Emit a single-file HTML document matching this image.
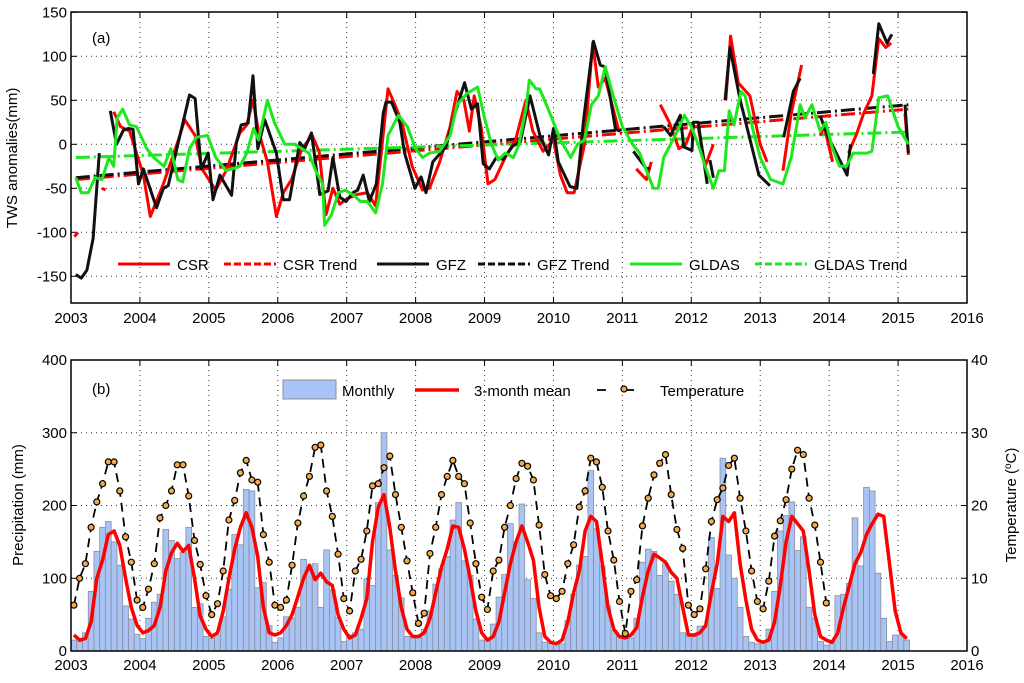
<!DOCTYPE html>
<html><head><meta charset="utf-8"><style>
body{margin:0;background:#fff;}
svg text{font-family:"Liberation Sans",sans-serif;}
</style></head><body>
<svg id="chart" width="1024" height="678" xmlns="http://www.w3.org/2000/svg"></svg>
<script>
// ---------- Panel (a) data ----------
const yearTicks = [2003,2004,2005,2006,2007,2008,2009,2010,2011,2012,2013,2014,2015,2016];
const twsTicks = [-150,-100,-50,0,50,100,150];
// GFZ segments (decimal year / value), null = gap
const gfzT = [2003.07,2003.15,2003.23,2003.32,2003.41,null,2003.57,2003.66,2003.76,2003.83,2003.90,2003.98,2004.05,2004.24,2004.34,2004.41,2004.58,2004.72,2004.80,2004.89,2004.99,2005.06,2005.16,2005.33,2005.40,2005.47,2005.57,2005.64,2005.71,2005.81,2005.98,2006.08,2006.17,2006.32,2006.39,2006.49,2006.61,2006.73,2006.80,2006.90,2006.99,2007.09,2007.16,2007.24,2007.33,2007.43,2007.53,2007.57,2007.65,2007.77,2007.84,2007.99,2008.08,2008.15,2008.25,2008.44,2008.57,2008.71,2008.81,2008.90,2008.98,2009.07,2009.17,2009.27,2009.41,2009.52,2009.66,2009.81,2009.93,2010.0,2010.07,2010.24,2010.34,2010.44,2010.58,2010.68,2010.75,2010.90,2010.97,null,2011.16,2011.35,2011.40,null,2011.60,2011.70,2011.84,2011.89,2012.01,2012.03,2012.10,2012.23,null,2012.27,2012.32,null,2012.49,2012.56,2012.71,2012.98,2013.14,null,2013.34,2013.48,2013.58,null,2013.87,2013.99,2014.26,2014.31,null,2014.64,2014.72,2014.84,2014.91,null,2015.10,2015.15];
const gfzV = [-148,-152,-143,-107,-10,null,38,0,16,18,17,-45,-28,-72,-50,-47,10,56,52,-28,-10,-63,-35,-58,2,22,24,78,-5,28,-10,-63,-63,2,-5,13,-57,-53,-15,-60,-65,-55,-52,-35,-65,-45,35,48,48,25,-10,-50,-37,-55,-20,-3,35,70,40,46,-22,-28,-15,-17,-2,3,55,8,-12,18,-20,-48,-50,30,117,90,88,17,15,null,-8,-28,-27,null,20,10,33,-3,-7,25,25,-45,null,-18,-38,null,50,110,50,-35,-47,null,8,60,75,null,32,8,-35,0,null,80,137,115,125,null,45,-10];
const csrT = [2003.05,2003.10,null,2003.45,2003.5,null,2003.62,2003.72,2003.85,2004.05,2004.15,2004.34,2004.58,2004.65,2004.8,2004.9,2005.1,2005.25,2005.45,2005.55,2005.64,2005.72,2005.85,2005.98,2006.08,2006.2,2006.35,2006.5,2006.6,2006.7,2006.8,2006.9,2007.0,2007.15,2007.3,2007.42,2007.5,2007.6,2007.7,2007.8,2007.95,2008.1,2008.2,2008.35,2008.5,2008.6,2008.7,2008.78,2008.85,2008.95,2009.05,2009.15,2009.3,2009.45,2009.6,2009.7,2009.85,2010.0,2010.1,2010.2,2010.3,2010.45,2010.57,2010.65,2010.75,2010.95,null,2011.2,2011.35,2011.42,null,2011.55,2011.68,2011.82,2011.92,2012.02,2012.1,2012.2,2012.32,null,2012.5,2012.57,2012.68,2012.85,2013.0,2013.1,null,2013.33,2013.45,2013.6,null,2013.87,2013.93,2014.05,null,2014.28,2014.4,2014.5,2014.62,2014.72,2014.82,2014.9,null,2015.1,2015.15];
const csrV = [-105,-100,null,-50,-52,null,37,20,15,-35,-82,-45,10,28,10,-28,-52,-30,13,22,50,15,-20,-82,-55,-40,-5,10,-8,-80,-50,-68,-62,-57,-55,-70,-10,63,45,25,-25,-52,-50,-20,20,60,50,15,55,20,-45,-40,-15,5,50,15,-8,5,-35,-55,-55,0,115,65,75,15,null,-28,-40,-20,null,45,25,-5,0,20,20,-25,0,null,50,123,70,55,0,-20,null,-30,35,90,null,10,20,-20,null,-10,12,35,55,120,110,115,null,35,-12];
const gldT = [2003.07,2003.15,2003.25,2003.35,2003.45,2003.55,2003.62,2003.67,2003.75,2003.85,2003.95,2004.1,2004.2,2004.35,2004.45,2004.55,2004.62,2004.72,2004.82,2004.98,2005.1,2005.25,2005.45,2005.55,2005.65,2005.72,2005.85,2005.95,2006.1,2006.25,2006.35,2006.45,2006.55,2006.65,2006.68,2006.78,2006.88,2006.98,2007.1,2007.2,2007.3,2007.42,2007.52,2007.6,2007.75,2007.88,2008.0,2008.1,2008.2,2008.35,2008.5,2008.6,2008.75,2008.9,2009.0,2009.1,2009.2,2009.3,2009.42,2009.5,2009.6,2009.65,2009.75,2009.8,2009.95,2010.1,2010.25,2010.35,2010.45,2010.55,2010.65,2010.75,2010.85,2011.0,2011.15,2011.25,2011.35,2011.45,2011.52,2011.6,2011.7,2011.8,2011.9,2012.0,2012.1,2012.2,2012.32,2012.4,2012.48,2012.55,2012.62,2012.72,2012.78,2012.9,2013.0,2013.15,2013.33,2013.45,2013.58,2013.65,2013.75,2013.87,2013.95,2014.05,2014.15,2014.25,2014.35,2014.45,2014.55,2014.62,2014.72,2014.85,2015.0,2015.15];
const gldV = [-38,-55,-55,-38,-40,-15,-25,30,40,22,20,-5,-15,-25,-5,-40,-43,-5,8,10,-15,-30,-25,-10,18,5,50,25,0,0,-5,-10,-30,-45,-92,-80,-55,-52,-58,-65,-65,-78,-45,10,33,20,-5,-15,-10,-8,10,45,58,65,30,0,-18,-10,-15,0,40,73,63,63,35,5,-15,0,5,45,55,88,60,20,0,-10,-30,-50,-50,-15,0,15,33,20,0,-25,-50,-30,-30,38,22,60,55,15,-15,-40,-45,-15,45,30,45,15,25,-5,-25,-25,-10,-10,-10,-8,53,55,20,0];
const trendT = [2003.07,2015.15];
const csrTrend = [-40,40];
const gfzTrend = [-38,45];
const gldTrend = [-15,14];

// ---------- Panel (b) data ----------
const precipTicks = [0,100,200,300,400];
const tempTicks = [0,10,20,30,40];
const precip = [15,13,25,82,137,170,178,150,118,62,44,23,
 17,45,67,78,167,152,127,135,170,60,65,20,
 17,22,47,85,160,146,222,220,87,94,35,12,
 18,47,45,60,126,112,120,60,139,84,46,13,
 22,25,30,99,90,204,300,139,104,73,20,18,
 18,30,55,92,113,130,180,204,124,104,44,15,
 17,37,74,105,175,150,202,98,72,25,12,10,
 10,10,42,78,118,130,248,168,117,62,28,20,
 20,18,45,122,140,137,104,120,96,78,25,24,
 20,34,35,156,86,265,132,100,60,20,12,10,
 12,30,82,165,186,205,138,157,60,45,13,8,
 10,76,78,93,183,117,225,220,107,45,13,22,
 22,15];
const mean3 = [22,15,17,40,100,125,160,165,145,100,60,35,
 25,28,35,60,110,135,148,137,145,100,48,30,
 20,25,55,100,140,170,190,170,130,60,25,22,
 25,35,50,75,100,118,98,107,95,90,50,30,
 18,22,45,72,150,198,215,170,110,60,30,20,
 20,25,45,80,115,140,172,170,140,100,55,25,
 15,20,40,80,120,150,172,150,125,60,20,12,
 10,15,40,80,110,165,185,178,120,60,30,20,
 18,22,32,75,110,133,128,122,108,100,60,22,
 22,25,35,80,120,185,178,190,120,70,30,15,
 12,15,40,90,150,185,175,165,110,50,20,15,
 12,25,60,90,120,135,160,175,188,185,120,55,
 25,17];
const temp = [6.3,10,12,17,20.5,23,26,26,22,15.7,12.2,7,
 6,8.5,12,18.3,20,22,25.6,25.6,21.3,15.2,11.9,7.6,
 5,6.5,11,18,20.7,24.5,26.2,23.5,23.2,16,12.2,6.3,
 6,7,11.8,17.6,21.3,24,28,28.3,22,18.5,13.3,7.2,
 5.5,11,12.6,16.5,22.7,23,25.2,26.8,21.5,17,12.4,8,
 3.8,5.2,13.4,17,21.5,24,26.2,24,23,17.6,12,7.4,
 5.7,11,12.5,17,20,23.7,25.8,25.4,23.5,17.3,10.5,7.6,
 7.2,8.2,12,14.6,19.8,22,26.5,26,22.5,16.5,12.5,6.8,
 2.4,8.2,9.8,17.2,21,24.2,25.8,27,21.5,16.7,14.1,6.3,
 5,5.8,11.3,17.8,20.8,22.4,25.5,26.5,21,16.5,11,6.8,
 5.8,9.6,15.8,17.9,20.8,25,27.6,27,21,17.3,12.2,6.6];

// ---------- Drawing ----------
const NS = "http://www.w3.org/2000/svg";
const svg = document.getElementById('chart');
function mk(tag, attrs, parent){ const e=document.createElementNS(NS,tag); for(const k in attrs) e.setAttribute(k,attrs[k]); (parent||svg).appendChild(e); return e; }
const X0=71, X1=967;
const xs = y => X0 + (y-2003)/(2016-2003)*(X1-X0);
const aTop=12, aBot=303;
const ya = v => 144.3 - v*(132/150);
const bTop=360, bBot=651;
const yb = v => bBot - v/400*(bBot-bTop);
const yt = v => bBot - v/40*(bBot-bTop);
const mx = i => xs(2003 + (i+0.5)/12);

function pathFrom(T,V,fx,fy){ let d='', pen=false; for(let i=0;i<T.length;i++){ if(T[i]===null||V[i]===null){pen=false;continue;} d+=(pen?'L':'M')+fx(T[i]).toFixed(1)+','+fy(V[i]).toFixed(1)+' '; pen=true;} return d; }

// ===== Panel A =====
const gA = mk('g',{});


yearTicks.forEach(y=>{
  if(y>2003 && y<2016){ const l=mk('line',{x1:xs(y),x2:xs(y),y1:aTop,y2:aBot,stroke:'#333','stroke-width':1,'stroke-dasharray':'1,4'},gA);   }
  const t=mk('text',{x:xs(y),y:aBot+20,'text-anchor':'middle','font-size':15},gA); t.textContent=y;
   
  mk('line',{x1:xs(y),x2:xs(y),y1:aBot,y2:aBot-6,stroke:'#000'},gA);
  mk('line',{x1:xs(y),x2:xs(y),y1:aTop,y2:aTop+6,stroke:'#000'},gA);
});
twsTicks.forEach(v=>{
  if(v<150){ const l=mk('line',{x1:X0,x2:X1,y1:ya(v),y2:ya(v),stroke:'#333','stroke-width':1,'stroke-dasharray':'1,4'},gA);   }
  const t=mk('text',{x:X0-4,y:ya(v)+5,'text-anchor':'end','font-size':15},gA); t.textContent=v;
   
  mk('line',{x1:X0,x2:X0+6,y1:ya(v),y2:ya(v),stroke:'#000'},gA);
  mk('line',{x1:X1,x2:X1-6,y1:ya(v),y2:ya(v),stroke:'#000'},gA);
});
// trends
let p;
p=mk('path',{d:pathFrom(trendT,csrTrend,xs,ya),stroke:'#f00','stroke-width':3,fill:'none','stroke-dasharray':'14,4,2,4'},gA);
 
p=mk('path',{d:pathFrom(trendT,gfzTrend,xs,ya),stroke:'#111','stroke-width':3,fill:'none','stroke-dasharray':'14,4,2,4'},gA);
 
p=mk('path',{d:pathFrom(trendT,gldTrend,xs,ya),stroke:'#1de81d','stroke-width':3,fill:'none','stroke-dasharray':'14,4,2,4'},gA);
 
p=mk('path',{d:pathFrom(csrT,csrV,xs,ya),stroke:'#f00','stroke-width':3,fill:'none','stroke-linejoin':'round'},gA);
 
p=mk('path',{d:pathFrom(gfzT,gfzV,xs,ya),stroke:'#111','stroke-width':3,fill:'none','stroke-linejoin':'round'},gA);
 
p=mk('path',{d:pathFrom(gldT,gldV,xs,ya),stroke:'#1de81d','stroke-width':3,fill:'none','stroke-linejoin':'round'},gA);
 
mk('rect',{x:X0,y:aTop,width:X1-X0,height:aBot-aTop,fill:'none',stroke:'#000','stroke-width':1.5},gA);
let t=mk('text',{x:92,y:43,'font-size':15},gA); t.textContent='(a)';
 
t=mk('text',{x:0,y:0,'font-size':15,'text-anchor':'middle',transform:'translate(17,158) rotate(-90)'},gA); t.textContent='TWS anomalies(mm)';
 
// legend A
const legA=[['CSR',118,'#f00',''],['CSR Trend',224,'#f00','7,3'],['GFZ',377,'#111',''],['GFZ Trend',478,'#111','7,3'],['GLDAS',630,'#1de81d',''],['GLDAS Trend',755,'#1de81d','7,3']];
legA.forEach(e=>{
  const g=mk('g',{},gA);
   
  const a={x1:e[1],x2:e[1]+52,y1:264,y2:264,stroke:e[2],'stroke-width':3}; if(e[3]) a['stroke-dasharray']=e[3];
  mk('line',a,g);
  const tt=mk('text',{x:e[1]+59,y:270,'font-size':15},g); tt.textContent=e[0];
});

// ===== Panel B =====
const gB = mk('g',{});


yearTicks.forEach(y=>{
  if(y>2003 && y<2016){ const l=mk('line',{x1:xs(y),x2:xs(y),y1:bTop,y2:bBot,stroke:'#333','stroke-width':1,'stroke-dasharray':'1,4'},gB);   }
  const tt=mk('text',{x:xs(y),y:bBot+19,'text-anchor':'middle','font-size':15},gB); tt.textContent=y;
   
  mk('line',{x1:xs(y),x2:xs(y),y1:bBot,y2:bBot-6,stroke:'#000'},gB);
  mk('line',{x1:xs(y),x2:xs(y),y1:bTop,y2:bTop+6,stroke:'#000'},gB);
});
precipTicks.forEach(v=>{
  if(v>0&&v<400){ const l=mk('line',{x1:X0,x2:X1,y1:yb(v),y2:yb(v),stroke:'#333','stroke-width':1,'stroke-dasharray':'1,4'},gB);   }
  const tt=mk('text',{x:X0-4,y:yb(v)+5,'text-anchor':'end','font-size':15},gB); tt.textContent=v;
   
  mk('line',{x1:X0,x2:X0+6,y1:yb(v),y2:yb(v),stroke:'#000'},gB);
});
tempTicks.forEach(v=>{
  const tt=mk('text',{x:X1+4,y:yt(v)+5,'font-size':15},gB); tt.textContent=v;
   
  mk('line',{x1:X1,x2:X1-6,y1:yt(v),y2:yt(v),stroke:'#000'},gB);
});
const bw = xs(2003+1/12)-xs(2003);
precip.forEach((v,i)=>{
  const r=mk('rect',{x:(mx(i)-bw/2).toFixed(2),y:yb(v).toFixed(2),width:bw.toFixed(2),height:(yb(0)-yb(v)).toFixed(2),fill:'#a8c4f4',stroke:'#8c8c9c','stroke-width':0.8},gB);
   
});
let d=''; mean3.forEach((v,i)=>{ d+=(i?'L':'M')+mx(i).toFixed(1)+','+yb(v).toFixed(1)+' '; });
p=mk('path',{d:d,stroke:'#f00','stroke-width':3.5,fill:'none','stroke-linejoin':'round'},gB);
 
d=''; temp.forEach((v,i)=>{ d+=(i?'L':'M')+mx(i).toFixed(1)+','+yt(v).toFixed(1)+' '; });
p=mk('path',{d:d,stroke:'#000','stroke-width':1.8,fill:'none','stroke-dasharray':'9,6'},gB);
 
temp.forEach((v,i)=>{
  const c=mk('circle',{cx:mx(i).toFixed(1),cy:yt(v).toFixed(1),r:3,fill:'#f5a94a',stroke:'#000','stroke-width':1.2},gB);
   
});
mk('rect',{x:X0,y:bTop,width:X1-X0,height:bBot-bTop,fill:'none',stroke:'#000','stroke-width':1.5},gB);
t=mk('text',{x:92,y:394,'font-size':15},gB); t.textContent='(b)';
 
t=mk('text',{x:0,y:0,'font-size':15,'text-anchor':'middle',transform:'translate(23,505) rotate(-90)'},gB); t.textContent='Precipitation (mm)';
 
t=mk('text',{x:0,y:0,'font-size':15,'text-anchor':'middle',transform:'translate(1016,505) rotate(-90)'},gB);
t.innerHTML='Temperature (<tspan dy="-5" font-size="10">o</tspan><tspan dy="5">C)</tspan>';
 
// legend B
let g=mk('g',{},gB);  
mk('rect',{x:283,y:380,width:53,height:19,fill:'#a8c4f4',stroke:'#8c8c9c'},g);
t=mk('text',{x:342,y:396,'font-size':15},g); t.textContent='Monthly';
g=mk('g',{},gB);  
mk('line',{x1:415,x2:459,y1:390,y2:390,stroke:'#f00','stroke-width':3.5},g);
t=mk('text',{x:474,y:396,'font-size':15},g); t.textContent='3-month mean';
g=mk('g',{},gB);  
mk('line',{x1:597,x2:651,y1:390,y2:390,stroke:'#000','stroke-width':1.8,'stroke-dasharray':'9,19'},g);
mk('circle',{cx:624,cy:389,r:3,fill:'#f5a94a',stroke:'#000','stroke-width':1.2},g);
t=mk('text',{x:660,y:396,'font-size':15},g); t.textContent='Temperature';
</script>
</body></html>
